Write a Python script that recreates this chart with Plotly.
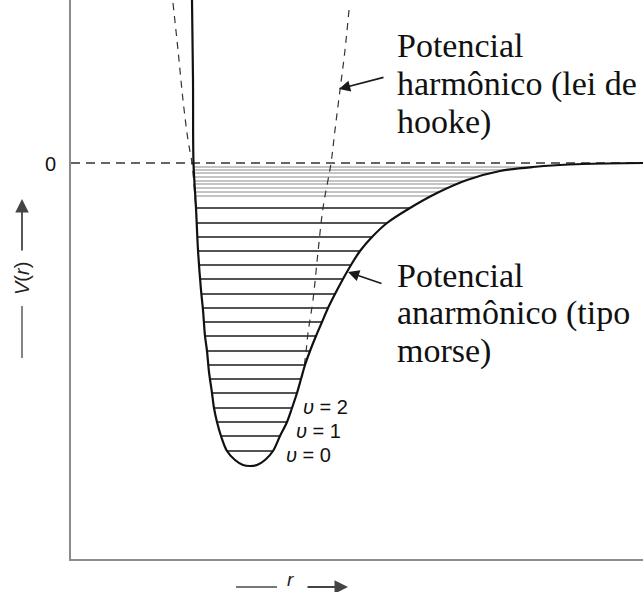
import numpy as np
import plotly.graph_objects as go

# Morse-type (anharmonic) potential, left wall down to the minimum
morse_left_r = [1.21, 1.22, 1.225, 1.25, 1.27, 1.30, 1.32, 1.34, 1.36, 1.38, 1.41,
                1.43, 1.46, 1.50, 1.56, 1.64, 1.72, 1.79]
morse_left_v = [1.63, 0.83, 0.0, -0.45, -0.87, -1.27, -1.47, -1.73, -1.88, -2.09, -2.30,
                -2.45, -2.59, -2.73, -2.88, -2.97, -3.02, -3.03]
# right branch rising towards the dissociation limit
morse_right_r = [1.86, 1.94, 2.02, 2.09, 2.16, 2.21, 2.26, 2.30, 2.34, 2.39, 2.45, 2.51,
                 2.57, 2.64, 2.72, 2.80, 2.89, 3.01, 3.16, 3.39, 3.66, 3.96, 4.29, 4.62,
                 5.12, 5.72]
morse_right_v = [-3.02, -2.97, -2.88, -2.73, -2.59, -2.45, -2.30, -2.16, -2.02, -1.88,
                 -1.73, -1.59, -1.45, -1.31, -1.16, -1.02, -0.88, -0.74, -0.60, -0.45,
                 -0.30, -0.17, -0.08, -0.04, -0.01, 0.0]

# Harmonic (Hooke) potential, visible parts of both branches
harm_left_r = [1.02, 1.07, 1.12, 1.17, 1.21, 1.23, 1.25]
harm_left_v = [1.60, 1.13, 0.63, 0.23, 0.0, -0.22, -0.47]
harm_right_r = [2.78, 2.74, 2.69, 2.64, 2.60, 2.52, 2.47, 2.42, 2.37, 2.35, 2.33]
harm_right_v = [1.53, 1.13, 0.73, 0.33, 0.0, -0.45, -0.89, -1.37, -1.70, -1.89, -2.05]

# Vibrational energy levels
levels_low = [-2.88, -2.73, -2.59, -2.45, -2.30, -2.16, -2.02, -1.88, -1.73, -1.59,
              -1.45, -1.31, -1.16, -1.02, -0.88, -0.74, -0.60, -0.45]
levels_high = [-0.33, -0.29, -0.25, -0.21, -0.18, -0.14, -0.10, -0.07, -0.04]
level_labels = ["<i>υ</i> = 0", "<i>υ</i> = 1", "<i>υ</i> = 2"]

R_MAX, V_MIN, V_MAX = 5.72, -3.96, 1.63

W, H = 643, 592
ML, MB = 71, 33
PW, PH = W - ML, H - MB


def pxx(x):
    return (x - ML) / PW


def pxy(y):
    return (PH - y) / PH


def level_segments(levels):
    lr = np.array(morse_left_r)[::-1]
    lv = np.array(morse_left_v)[::-1]
    xs, ys = [], []
    for e in levels:
        a = np.interp(e, lv, lr)
        b = np.interp(e, morse_right_v, morse_right_r)
        xs += [a, b, None]
        ys += [e, e, None]
    return xs, ys


fig = go.Figure()

# zero-energy reference
fig.add_trace(go.Scatter(x=[0, R_MAX], y=[0, 0], mode="lines",
                         line=dict(color="#333", width=1.3, dash="9px,6px")))

xl, yl = level_segments(levels_low)
fig.add_trace(go.Scatter(x=xl, y=yl, mode="lines",
                         line=dict(color="#1a1a1a", width=1.6)))
xh, yh = level_segments(levels_high)
fig.add_trace(go.Scatter(x=xh, y=yh, mode="lines",
                         line=dict(color="#8a8a8a", width=1.2)))

fig.add_trace(go.Scatter(x=harm_left_r + [None] + harm_right_r,
                         y=harm_left_v + [None] + harm_right_v, mode="lines",
                         line=dict(color="#333", width=1.2, dash="7px,6px", shape="spline")))

fig.add_trace(go.Scatter(x=morse_left_r + morse_right_r, y=morse_left_v + morse_right_v,
                         mode="lines",
                         line=dict(color="#111", width=2.2, shape="spline", smoothing=0.9)))

serif = "Liberation Serif, Times New Roman, serif"
sans = "Liberation Sans, Arial, sans-serif"
ann = []

for i, t in enumerate(["Potencial", "harmônico (lei de", "hooke)"]):
    ann.append(dict(x=pxx(395), y=pxy(46 + 38 * i), xref="paper", yref="paper",
                    text=t, showarrow=False, xanchor="left", yanchor="middle",
                    font=dict(family=serif, size=34, color="#111")))
for i, t in enumerate(["Potencial", "anarmônico (tipo", "morse)"]):
    ann.append(dict(x=pxx(395), y=pxy(275 + 38 * i), xref="paper", yref="paper",
                    text=t, showarrow=False, xanchor="left", yanchor="middle",
                    font=dict(family=serif, size=34, color="#111")))

for t, (lx, ly) in zip(level_labels, [(284, 455), (294, 431), (301, 407)]):
    ann.append(dict(x=pxx(lx), y=pxy(ly), xref="paper", yref="paper", text=t,
                    showarrow=False, xanchor="left", yanchor="middle",
                    font=dict(family=sans, size=20, color="#111")))

# "0" on the energy axis
ann.append(dict(x=pxx(50), y=pxy(164), xref="paper", yref="paper", text="0",
                showarrow=False, xanchor="center", yanchor="middle",
                font=dict(family=sans, size=20, color="#111")))

# pointer arrows
for tip, tail in [((339, 89), (385, 77)), ((348, 272), (383, 284))]:
    ann.append(dict(x=pxx(tip[0]), y=pxy(tip[1]), xref="paper", yref="paper", text="",
                    showarrow=True, ax=tail[0] - tip[0], ay=tail[1] - tip[1],
                    arrowhead=2, arrowsize=1.4, arrowwidth=1.6, arrowcolor="#1a1a1a"))

# axis titles with arrows
ann.append(dict(x=pxx(22), y=pxy(279), xref="paper", yref="paper", text="<i>V</i>(<i>r</i>)",
                showarrow=False, textangle=-90, xanchor="center", yanchor="middle",
                font=dict(family=sans, size=20, color="#222")))
ann.append(dict(x=pxx(22), y=pxy(199), xref="paper", yref="paper", text="",
                showarrow=True, ax=0, ay=53, arrowhead=2, arrowsize=1.5,
                arrowwidth=1.8, arrowcolor="#444"))
ann.append(dict(x=pxx(290), y=pxy(579), xref="paper", yref="paper", text="<i>r</i>",
                showarrow=False, xanchor="center", yanchor="middle",
                font=dict(family=sans, size=19, color="#222")))
ann.append(dict(x=pxx(348), y=pxy(587), xref="paper", yref="paper", text="",
                showarrow=True, ax=-42, ay=0, arrowhead=2, arrowsize=1.5,
                arrowwidth=1.8, arrowcolor="#444"))

shapes = [
    dict(type="line", xref="paper", yref="paper", x0=pxx(22), x1=pxx(22),
         y0=pxy(306), y1=pxy(358), line=dict(color="#777", width=1.8)),
    dict(type="line", xref="paper", yref="paper", x0=pxx(236), x1=pxx(277),
         y0=pxy(587), y1=pxy(587), line=dict(color="#777", width=1.8)),
]

fig.update_layout(
    width=W, height=H, margin=dict(l=ML, r=0, t=0, b=MB),
    paper_bgcolor="white", plot_bgcolor="white", showlegend=False,
    annotations=ann, shapes=shapes,
    xaxis=dict(range=[0, R_MAX], showgrid=False, zeroline=False, showticklabels=False,
               ticks="", showline=True, linecolor="#8c8c8c", linewidth=2),
    yaxis=dict(range=[V_MIN, V_MAX], showgrid=False, zeroline=False, showticklabels=False,
               ticks="", showline=True, linecolor="#8c8c8c", linewidth=2),
)

fig.write_html("out.html")
